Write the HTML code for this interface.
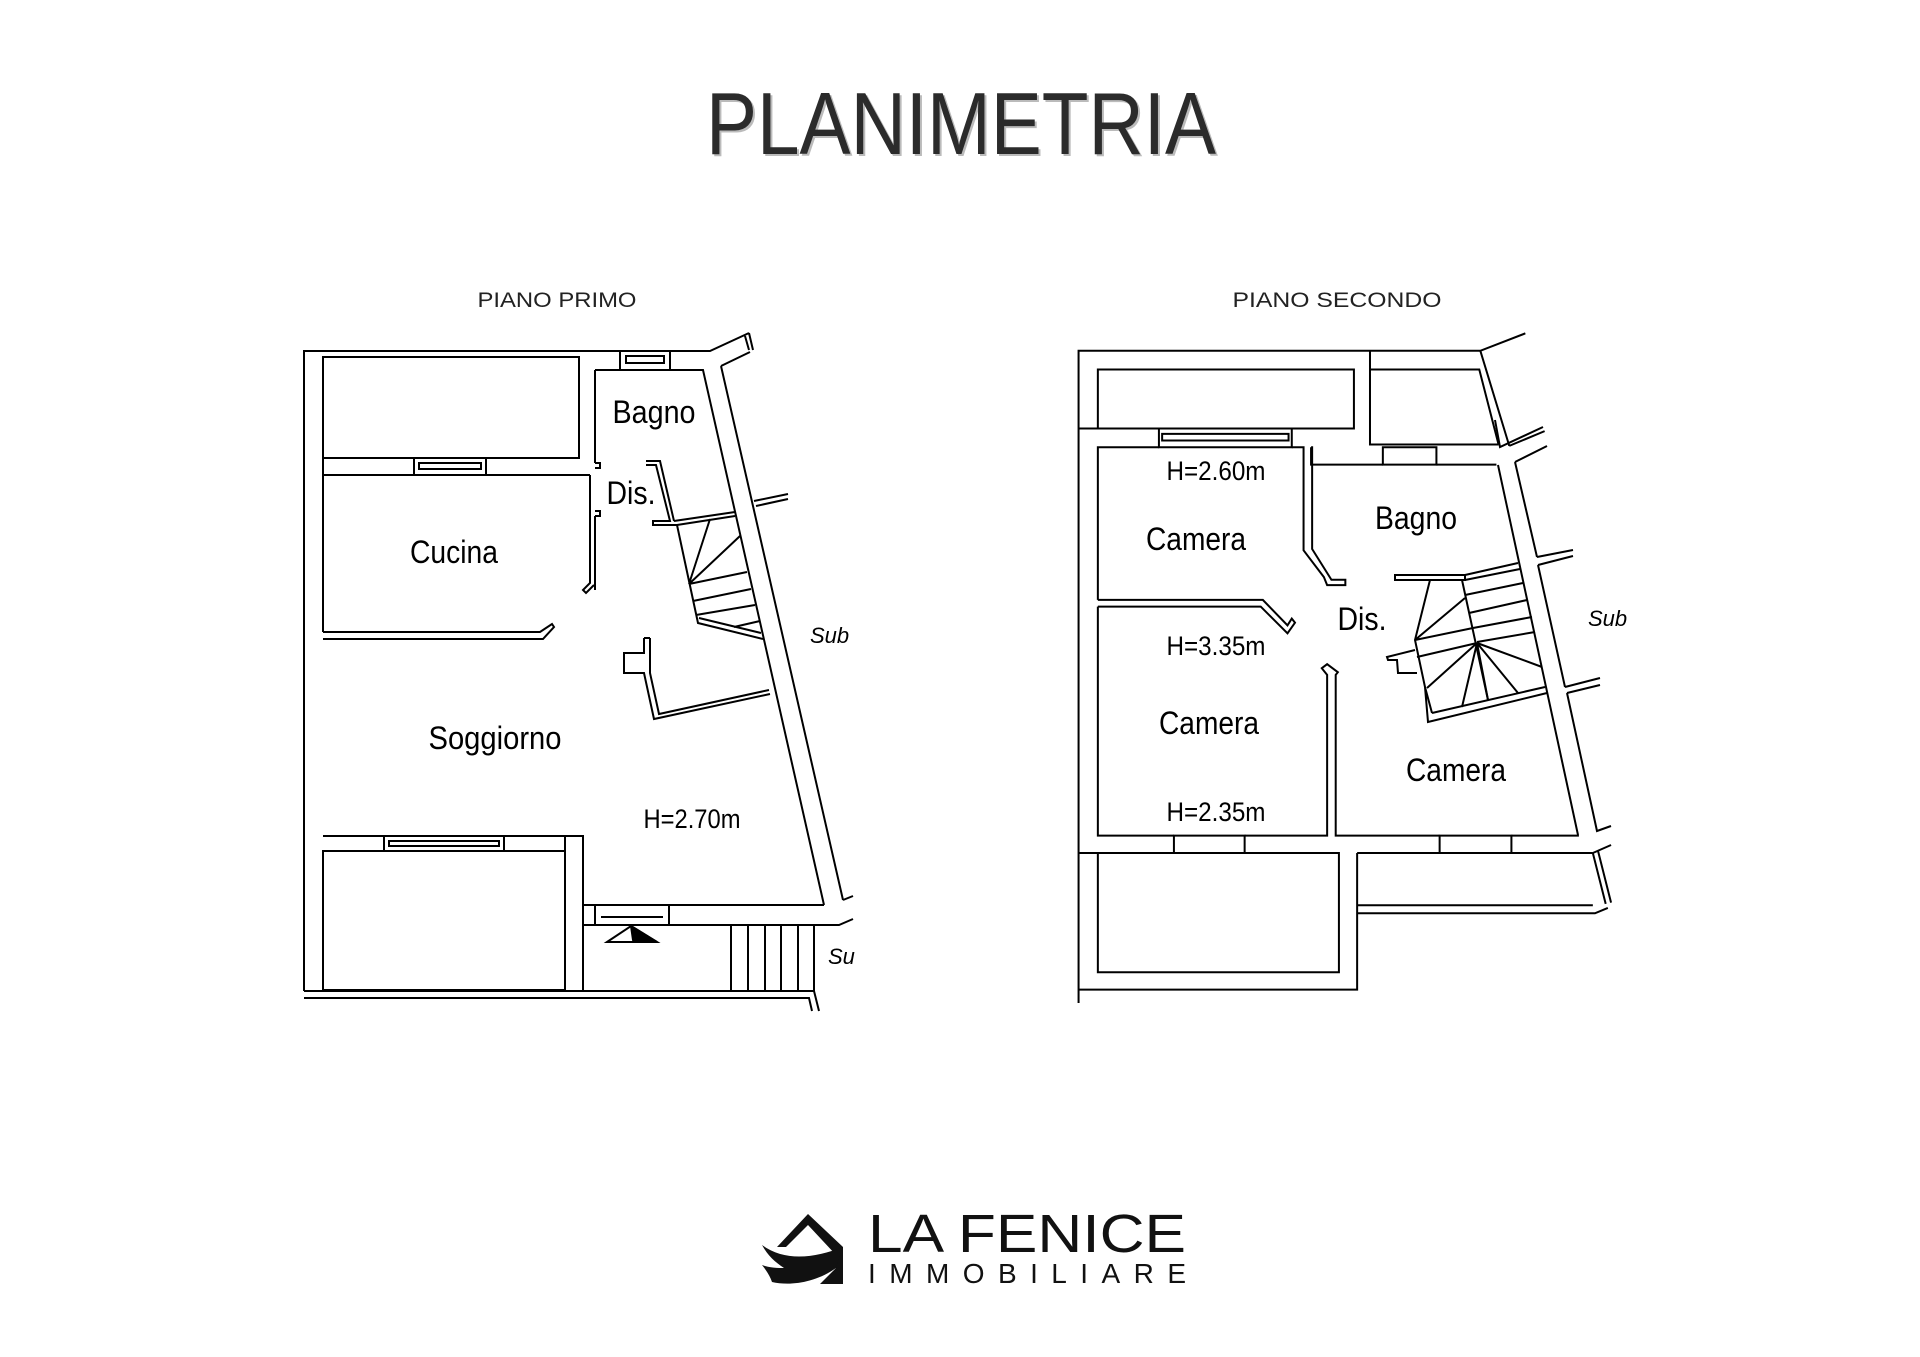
<!DOCTYPE html>
<html><head><meta charset="utf-8"><style>
html,body{margin:0;padding:0;background:#fff;}
svg{display:block;}
</style></head><body>
<svg width="1920" height="1357" viewBox="0 0 1920 1357" xmlns="http://www.w3.org/2000/svg" font-family="Liberation Sans, sans-serif">
<rect width="1920" height="1357" fill="#fff"/>
<text x="963" y="156" text-anchor="middle" font-size="88" fill="#bbb" textLength="510" lengthAdjust="spacingAndGlyphs">PLANIMETRIA</text>
<text x="961" y="154" text-anchor="middle" font-size="88" fill="#2b2b2b" textLength="510" lengthAdjust="spacingAndGlyphs">PLANIMETRIA</text>
<text x="557" y="307" text-anchor="middle" font-size="21" fill="#222" textLength="159" lengthAdjust="spacingAndGlyphs">PIANO PRIMO</text>
<text x="1337" y="307" text-anchor="middle" font-size="21" fill="#222" textLength="209" lengthAdjust="spacingAndGlyphs">PIANO SECONDO</text>

<g fill="none" stroke="#000" stroke-width="2">
<!-- FLOOR 1 -->
<path d="M304,991 V351 H620 M670,351 H710 L749,333 M749,333 L753,350 M745,336 L749,350"/>
<rect x="323" y="357" width="256" height="101"/>
<path d="M323,458 V475 M414,458 V475 M486,458 V475"/>
<rect x="414" y="458" width="72" height="17"/>
<rect x="419" y="463" width="62" height="6"/>
<rect x="620" y="351" width="50" height="19"/>
<rect x="626" y="356" width="38" height="7"/>
<path d="M595,370 H703 L824,905 M721,366 L750,352 M721,366 L843,900"/>
<path d="M595,370 V463 M595,516 V590 M595,463 h5 v5 h-5 M595,511 h5 v5 h-5 M590,475 V583 L583,590 L586,593 L594,585"/>
<path d="M323,475 H414 M486,475 H590"/>
<path d="M323,632 H540 L552,624 L554,627 L543,639 H323 M323,475 V632"/>
<path d="M646,461 H660 L674,521 M646,465 H656 L670,521 H653 V525 H677 L735,516 M674,521 L735,512"/>
<path d="M677,525 L698,623 L763,639 M699,618 L761,633 M689,584 L710,519 M689,584 L740,536 M689,584 L747,572 M693,601 L751,589 M696,615 L755,605 M734,627 L760,621"/>
<path d="M754,501 L788,494 M756,506 L788,499"/>
<path d="M644,638 V653 H624 V673 H644 L654,719 L770,694 M650,638 V673 L659,714 L769,690 M644,638 H650"/>
<path d="M323,836 H384 M504,836 H583 V905 H595 M669,905 H824 M843,900 L853,896"/>
<rect x="384" y="836" width="120" height="15"/>
<rect x="389" y="841" width="110" height="5"/>
<rect x="595" y="905" width="74" height="20"/>
<path d="M601,917 H663"/>
<rect x="323" y="851" width="242" height="139"/>
<path d="M565,836 V990 M583,905 V990 M583,925 H839 L853,919"/>
<path d="M731,925 V991 M748,925 V991 M765,925 V991 M781,925 V991 M798,925 V991 M814,925 V991"/>
<path d="M304,991 H814 L819,1011 M304,998 H809 L812,1011"/>
<path d="M607,942 L631,926 L657,942 Z"/>
<path d="M631,926 L657,942 L633,940 Z" fill="#000"/>

<!-- FLOOR 2 -->
<g transform="matrix(1.0714,0,0,1.3393,-76.4,-108.6)">
<path vector-effect="non-scaling-stroke" d="M1078,830 V343 H1453 L1495,330"/>
<rect vector-effect="non-scaling-stroke" x="1096" y="357" width="239" height="44"/>
<path vector-effect="non-scaling-stroke" d="M1078,401 H1153 M1277,401 H1335"/>
<rect vector-effect="non-scaling-stroke" x="1153" y="401" width="124" height="14"/>
<rect vector-effect="non-scaling-stroke" x="1156" y="405" width="118" height="5"/>
<path vector-effect="non-scaling-stroke" d="M1350,343 V413 H1470 M1350,357 H1452 L1470,413"/>
<path vector-effect="non-scaling-stroke" d="M1453,343 L1480,414 M1480,414 L1513,403"/>
<path vector-effect="non-scaling-stroke" d="M1096,529 V415 H1153 M1277,415 H1288 V492 L1307,512 L1310,518 H1327 V514 H1314 L1296,491 V415 H1295"/>
<path vector-effect="non-scaling-stroke" d="M1096,529 H1250 L1273,548 L1277,543 L1280,546 L1273,554 L1248,534 H1096"/>
<path vector-effect="non-scaling-stroke" d="M1096,534 V705 H1167 M1233,705 H1310 V585 L1305,580 L1310,577 L1320,583 L1318,585 V705 H1415 M1482,705 H1545"/>
<rect vector-effect="non-scaling-stroke" x="1167" y="705" width="66" height="13"/>
<rect vector-effect="non-scaling-stroke" x="1415" y="705" width="67" height="13"/>
<path vector-effect="non-scaling-stroke" d="M1078,718 H1167 M1233,718 H1321 V807 H1096 V718 M1338,718 H1415 M1482,718 H1558"/>
<path vector-effect="non-scaling-stroke" d="M1078,820 H1338 V718 M1338,763 H1560 L1572,759 M1338,757 H1558"/>
<path vector-effect="non-scaling-stroke" d="M1295,415 V428 H1362 M1412,428 H1468"/>
<rect vector-effect="non-scaling-stroke" x="1362" y="415" width="50" height="13"/>
<path vector-effect="non-scaling-stroke" d="M1558,718 L1570,756 M1563,717 L1575,755 M1558,718 L1575,712"/>
</g>
<!-- floor 2 right side & stair (orig coords) -->
<path d="M1498,465 L1578,835 M1515,462 L1537,557 M1538,565 L1565,687 M1567,693 L1597,831 L1611,826"/>
<path d="M1495,420 L1500,447 L1543,427 M1515,462 L1547,446"/>
<path d="M1537,557 L1573,550 M1538,565 L1573,556 M1565,687 L1600,678 M1567,693 L1600,685"/>
<path d="M1395,575 H1465 V580 H1395 Z M1465,575 L1518,563 M1465,580 L1520,569"/>
<path d="M1462,580 L1488,700 M1465,595 L1523,583 M1469,613 L1527,600 M1473,628 L1532,617 M1477,642 L1535,632"/>
<path d="M1430,580 L1415,640 L1425,687 L1428,722 L1547,693 M1432,713 L1545,687 M1432,713 L1425,687"/>
<path d="M1415,640 L1473,628 M1417,657 L1477,643 M1415,640 L1465,598"/>
<path d="M1477,643 L1427,688 M1477,643 L1462,707 M1477,643 L1488,700 M1477,643 L1518,693 M1477,643 L1542,667"/>
<path d="M1415,650 L1387,657 L1388,660 L1397,660 L1398,673 L1417,673"/>
</g>

<g fill="#000" font-size="32">
<text x="654" y="423" text-anchor="middle" textLength="83" lengthAdjust="spacingAndGlyphs">Bagno</text>
<text x="631" y="504" text-anchor="middle" textLength="49" lengthAdjust="spacingAndGlyphs">Dis.</text>
<text x="454" y="563" text-anchor="middle" textLength="88" lengthAdjust="spacingAndGlyphs">Cucina</text>
<text x="495" y="749" text-anchor="middle" textLength="133" lengthAdjust="spacingAndGlyphs">Soggiorno</text>
<text x="692" y="828" text-anchor="middle" font-size="27" textLength="97" lengthAdjust="spacingAndGlyphs">H=2.70m</text>
<text x="810" y="643" font-size="22" font-style="italic">Sub</text>
<text x="828" y="964" font-size="22" font-style="italic">Su</text>
<text x="1216" y="480" text-anchor="middle" font-size="27" textLength="99" lengthAdjust="spacingAndGlyphs">H=2.60m</text>
<text x="1196" y="550" text-anchor="middle" textLength="100" lengthAdjust="spacingAndGlyphs">Camera</text>
<text x="1416" y="529" text-anchor="middle" textLength="82" lengthAdjust="spacingAndGlyphs">Bagno</text>
<text x="1362" y="630" text-anchor="middle" textLength="49" lengthAdjust="spacingAndGlyphs">Dis.</text>
<text x="1216" y="655" text-anchor="middle" font-size="27" textLength="99" lengthAdjust="spacingAndGlyphs">H=3.35m</text>
<text x="1209" y="734" text-anchor="middle" textLength="100" lengthAdjust="spacingAndGlyphs">Camera</text>
<text x="1456" y="781" text-anchor="middle" textLength="100" lengthAdjust="spacingAndGlyphs">Camera</text>
<text x="1216" y="821" text-anchor="middle" font-size="27" textLength="99" lengthAdjust="spacingAndGlyphs">H=2.35m</text>
<text x="1588" y="626" font-size="22" font-style="italic">Sub</text>
</g>

<g>
<path d="M777,1247 L808,1214 L843,1247 V1284 H820 L836,1268 V1255 L808,1225 L786,1247 Z" fill="#111"/>
<path d="M762,1245 C785,1262 815,1258 843,1247 L836,1268 C815,1283 790,1286 772,1282 C770,1276 766,1270 762,1265 C770,1268 778,1268 784,1268 C775,1262 768,1256 762,1245 Z" fill="#111"/>
<text x="868" y="1252" font-size="54" fill="#111" textLength="318" lengthAdjust="spacingAndGlyphs">LA FENICE</text>
<text x="868" y="1283" font-size="28" fill="#111" textLength="318" lengthAdjust="spacing">IMMOBILIARE</text>
</g>
</svg>
</body></html>
